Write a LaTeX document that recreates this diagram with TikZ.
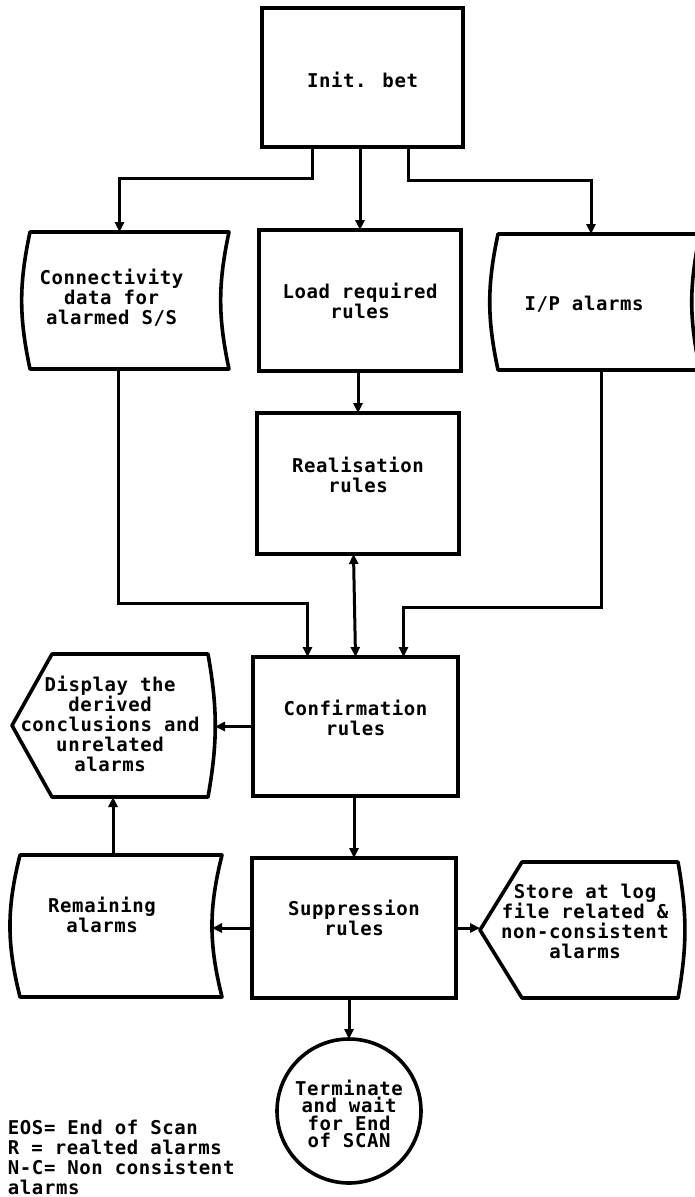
\documentclass[tikz,border=0pt]{standalone}
\usepackage{fontspec}
\newfontfamily\dotfont[LetterSpace=3]{DejaVu Sans Mono}
\usetikzlibrary{arrows.meta,calc}

\tikzset{
  every node/.style={inner sep=0pt, outer sep=0pt},
  area/.style 2 args={rectangle, anchor=north west, minimum width=#1, minimum height=#2},
  outline/.style={line width=3.6pt, line join=round},
  stepbox/.style={draw, line width=3.6pt},
  arr/.style={line width=3pt, -{Triangle[length=10pt,width=9pt]}},
  arrboth/.style={line width=3pt, {Triangle[length=10pt,width=9pt]}-{Triangle[length=10pt,width=9pt]}},
  txt/.style={font=\dotfont\bfseries\fontsize{19}{20}\selectfont, align=center},
  legend/.style={font=\dotfont\bfseries\fontsize{19}{20}\selectfont, align=left, anchor=north west}
}

\begin{document}
\begin{tikzpicture}[x=1pt,y=-1pt]
\useasboundingbox (0,0) rectangle (695,1197);
\fill[white] (0,0) rectangle (695,1197);
\clip (0,0) rectangle (695,1197);

% process boxes
\node[area={201pt}{139pt}, stepbox] (init) at (262,8) {};
\node[area={202pt}{141pt}, stepbox] (lead) at (259,230) {};
\node[area={202pt}{141pt}, stepbox] (real) at (257,413) {};
\node[area={205pt}{139pt}, stepbox] (conf) at (253,657) {};
\node[area={204pt}{140pt}, stepbox] (supp) at (252,858) {};

% stored-data frames
\node[area={199pt}{137pt}] (conn) at (30,232) {};
\node[area={202pt}{136pt}] (ipal) at (498,234) {};
\node[area={202pt}{142pt}] (rem) at (20,855) {};

% display frames
\node[area={196pt}{143pt}] (disp) at (12,654) {};
\node[area={198pt}{136pt}] (store) at (480,862) {};

% terminator
\node[circle, draw, line width=3.6pt, minimum size=144pt] (term) at (349,1111) {};

% stored-data outlines (both sides bowed to the left)
\draw[outline] (conn.north west) to[bend right=12] (conn.south west) -- (conn.south east)
  to[bend left=12] (conn.north east) -- cycle;
\draw[outline] (ipal.north west) to[bend right=12] (ipal.south west) -- (ipal.south east)
  to[bend left=12] (ipal.north east) -- cycle;
\draw[outline] (rem.north west) to[bend right=14] (rem.south west) -- (rem.south east)
  to[bend left=14] (rem.north east) -- cycle;

% display outlines (pointed left end, rounded right end)
\draw[outline] (disp.west) -- ([xshift=40pt]disp.north west) -- (disp.north east)
  to[bend left=10] (disp.south east) -- ([xshift=40pt]disp.south west) -- cycle;
\draw[outline] (store.west) -- ([xshift=42pt]store.north west) -- (store.north east)
  to[bend left=10] (store.south east) -- ([xshift=42pt]store.south west) -- cycle;

\coordinate (dispE) at ([xshift=7pt]disp.east);
\coordinate (remE) at ([xshift=-10pt]rem.east);

% texts
\node[txt] (init-t) at ([yshift=-2pt]init.center) {Init. bet};
\node[txt] (conn-t) at ([xshift=-18pt,yshift=3pt]conn.center) {Connectivity\\data for\\alarmed S/S};
\node[txt] (lead-t) at (lead.center) {Load required\\rules};
\node[txt] (ipal-t) at ([xshift=-15pt,yshift=-2pt]ipal.center) {I/P alarms};
\node[txt] (real-t) at ([yshift=9pt]real.center) {Realisation\\rules};
\node[txt] (conf-t) at ([yshift=9pt]conf.center) {Confirmation\\rules};
\node[txt] (disp-t) at ([yshift=2pt]disp.center) {Display the\\derived\\conclusions and\\unrelated\\alarms};
\node[txt] (rem-t) at ([xshift=-19pt,yshift=11pt]rem.center) {Remaining\\alarms};
\node[txt] (supp-t) at ([yshift=10pt]supp.center) {Suppression\\rules};
\node[txt] (store-t) at ([xshift=6pt,yshift=9pt]store.center) {Store at log\\file related \&\\non-consistent\\alarms};
\node[txt, font=\dotfont\bfseries\fontsize{19}{17.5}\selectfont] (term-t) at ([yshift=-3pt]term.center) {Terminate\\and wait\\for End\\of SCAN};

\node[legend] (key) at (8,1120) {EOS= End of Scan\\R = realted alarms\\N-C= Non consistent\\alarms};

% connectors
\draw[arr] ([xshift=-50pt]init.south) -- ++(0,31) -| ([xshift=-10pt]conn.north);
\draw[arr] ([xshift=46pt]init.south) -- ++(0,33) -| ([xshift=-8pt]ipal.north);
\draw[arr] (init.south -| lead.north) -- (lead.north);
\draw[arr] (lead.south -| real.north) -- (real.north);
\draw[arrboth] ([xshift=-2pt]real.south -| conf.north) -- (conf.north);
\draw[arr] ([xshift=-11pt]conn.south) -- ++(0,234) -| ([xshift=-48pt]conf.north);
\draw[arr] ([xshift=2pt]ipal.south) -- ++(0,237) -| ([xshift=48pt]conf.north);
\draw[arr] (conf.west) -- (conf.west -| dispE);
\draw[arr] (conf.south -| supp.north) -- (supp.north);
\draw[arr] ([xshift=3pt]disp.south |- rem.north) -- ([xshift=3pt]disp.south);
\draw[arr] (supp.west) -- (supp.west -| remE);
\draw[arr] (supp.east) -- (supp.east -| store.west);
\draw[arr] (term.north |- supp.south) -- (term.north);
\end{tikzpicture}
\end{document}
